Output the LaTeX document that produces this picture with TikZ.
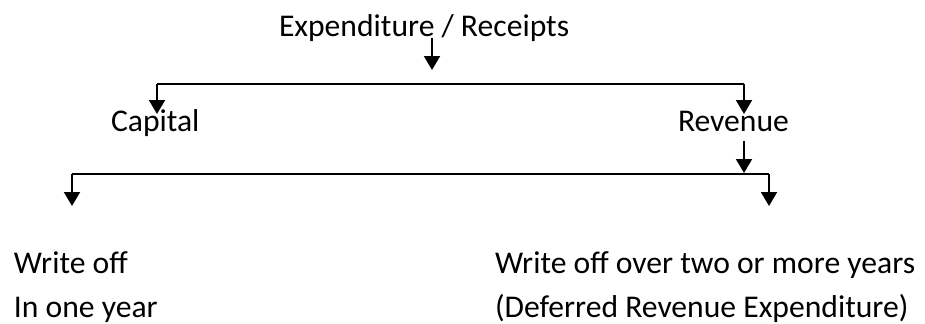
\documentclass[tikz,border=0pt]{standalone}
\usepackage{fontspec}
\setmainfont{Carlito}
\usetikzlibrary{arrows.meta,positioning}

\begin{document}
\begin{tikzpicture}[x=0.02cm,y=-0.02cm,line width=0.04cm,
    >={Triangle[width=0.32cm,length=0.28cm]},
    lbl/.style={anchor=base west,inner sep=0pt,font=\fontsize{18}{22}\selectfont}]
  \useasboundingbox (0,0) rectangle (925,324);
  % labels
  \node[lbl] (head) at (278,37) {Expenditure / Receipts};
  \node[lbl] (cap) at (110,132) {Capital};
  \node[lbl] (rev) at (677,132) {Revenue};
  \node[lbl] (once) at (13,273) {Write off};
  \node[lbl] (oncey) at (13,317) {In one year};
  \node[lbl] (defer) at (494,273) {Write off over two or more years};
  \node[lbl] (defery) at (494,317) {(Deferred Revenue Expenditure)};
  % junction points
  \coordinate (hd) at (432,70);
  \coordinate (capin) at (157,114);
  \coordinate (revin) at (744,114);
  \coordinate (revout) at (744,173);
  \coordinate (oncein) at (72,206);
  \coordinate (deferin) at (769,206);
  \draw[->] (hd |- head.base) ++(0,1) -- (hd);
  \draw[->] (capin) ++(0,-30) -| (capin);
  \draw (capin) ++(0,-30) -- (revin |- 0,84);
  \draw[->] (revin |- 0,84) -- (revin);
  \draw[->] (revout |- rev.base) ++(0,9) -- (revout);
  \draw[->] (oncein |- 0,174) -- (oncein);
  \draw (oncein |- 0,174) -- (deferin |- 0,174);
  \draw[->] (deferin |- 0,174) -- (deferin);
\end{tikzpicture}
\end{document}
